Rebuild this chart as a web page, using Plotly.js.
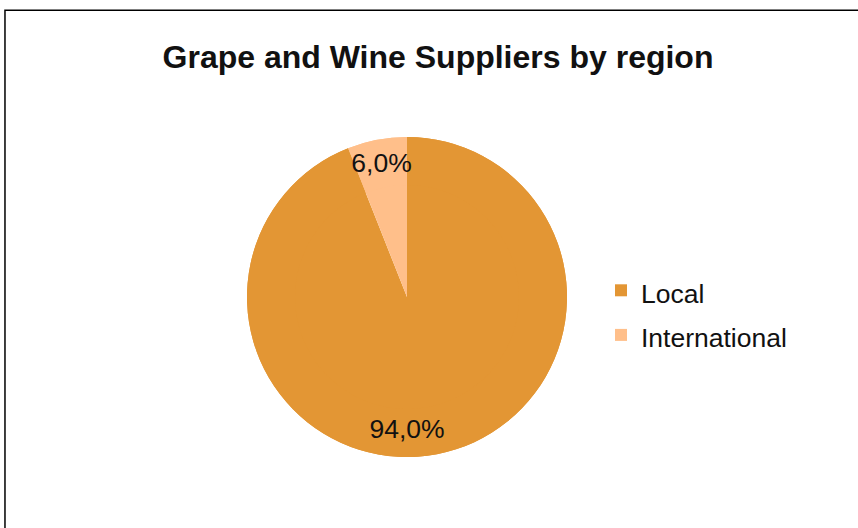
<!DOCTYPE html>
<html>
<head>
<meta charset="utf-8">
<script src="https://cdn.plot.ly/plotly-3.0.1.min.js"></script>
<style>html,body{margin:0;padding:0;background:#fff;}#chart{width:858px;height:528px;}</style>
</head>
<body>
<div id="chart"></div>
<script>
var labels = ['Local', 'International'];
var values = [94.0, 6.0];
var colors = ['#E39634', '#FFBF8A'];
var chartTitle = 'Grape and Wine Suppliers by region';

var FONT = 'Liberation Sans, Arial, Helvetica, sans-serif';
var pieDomain = {x: [247/858, 567/858], y: [1 - 457/528, 1 - 137/528]};

// full disc (no text) underneath
var baseTrace = {
  type: 'pie',
  labels: labels,
  values: values,
  sort: false,
  direction: 'clockwise',
  rotation: 0,
  marker: {colors: colors, line: {width: 0}},
  textposition: 'none',
  showlegend: false,
  hoverinfo: 'skip',
  domain: pieDomain
};

// outer ring carrying the percentage labels and the legend
var labelTrace = {
  type: 'pie',
  labels: labels.map(function (l) { return '<span style="font-size:26.5px">' + l + '</span>'; }),
  values: values,
  sort: false,
  direction: 'clockwise',
  rotation: 0,
  hole: 0.7,
  marker: {colors: colors, line: {width: 0}},
  texttemplate: '%{percent:.1%}',
  textposition: 'inside',
  insidetextorientation: 'horizontal',
  textfont: {family: FONT, size: 26.5, color: '#111'},
  hoverinfo: 'percent',
  domain: pieDomain
};

var layout = {
  width: 858,
  height: 528,
  margin: {l: 0, r: 0, t: 0, b: 0},
  paper_bgcolor: '#ffffff',
  separators: ',.',
  font: {family: FONT, color: '#111'},
  uniformtext: {mode: 'show', minsize: 26.5},
  title: {
    text: '<b>' + chartTitle + '</b>',
    font: {family: FONT, size: 32, color: '#111'},
    x: 438/858, xref: 'paper', xanchor: 'center',
    y: 1 - 57/528, yref: 'paper', yanchor: 'middle'
  },
  showlegend: true,
  legend: {
    x: 601/858, xanchor: 'left',
    y: 1 - 313/528, yanchor: 'middle',
    font: {family: FONT, size: 32, color: '#111'},
    bgcolor: 'rgba(0,0,0,0)'
  },
  shapes: [{
    type: 'path', xref: 'paper', yref: 'paper',
    path: 'M 0.0058,-0.05 L 0.0058,0.9805 L 1.05,0.9805',
    line: {color: '#000', width: 1.5}
  }]
};

Plotly.newPlot('chart', [baseTrace, labelTrace], layout, {displayModeBar: false, staticPlot: true});
</script>
</body>
</html>
